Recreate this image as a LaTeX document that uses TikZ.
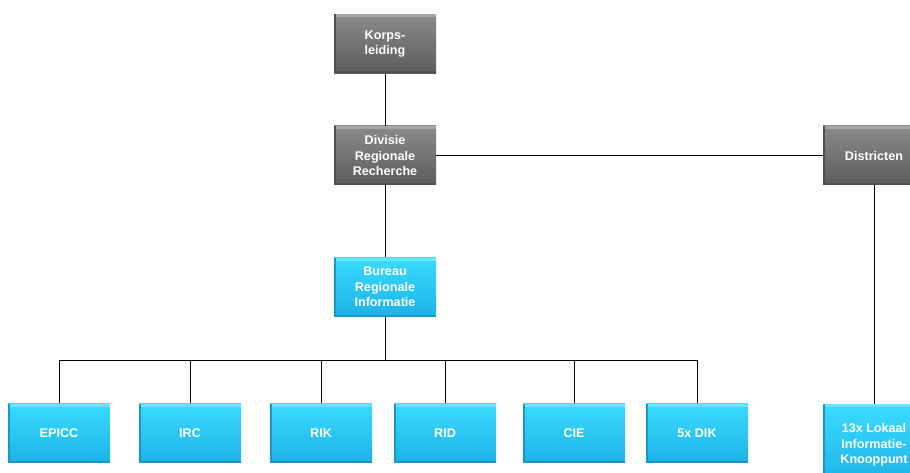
\documentclass[tikz,border=0pt]{standalone}
\usepackage{fontspec}
\setmainfont{Liberation Sans}
\definecolor{greytop}{HTML}{8A8A8C}
\definecolor{greybot}{HTML}{5C5C5E}
\definecolor{greyedge}{HTML}{4E4E50}
\definecolor{cyantop}{HTML}{3ADCFF}
\definecolor{cyanbot}{HTML}{1CB2E6}
\definecolor{cyanedge}{HTML}{1898C8}
\begin{document}
\begin{tikzpicture}[x=1pt,y=-1pt,
  unit/.style={rectangle, minimum width=102pt, minimum height=59pt, inner sep=0pt,
    text=white, align=center, font=\bfseries\fontsize{12.6}{15.5}\selectfont},
  bevel/.style={path picture={
    \fill[white, opacity=0.25] (path picture bounding box.north west) rectangle
      ([yshift=-3pt]path picture bounding box.north east);
    \fill[#1] (path picture bounding box.south west) rectangle
      ([xshift=2pt]path picture bounding box.north west);
    \fill[#1] (path picture bounding box.south west) rectangle
      ([yshift=2pt]path picture bounding box.south east);}},
  mgmt/.style={unit, top color=greytop, bottom color=greybot, bevel=greyedge},
  info/.style={unit, top color=cyantop, bottom color=cyanbot, bevel=cyanedge},
  link/.style={draw=black, line width=0.9pt}]
\useasboundingbox (0,0) rectangle (910,473);
\clip (0,0) rectangle (910,473);

% management chain
\node[mgmt] (korps) at (385,44) {Korps-\\leiding};
\node[mgmt] (div) at (385,155.5) {Divisie\\Regionale\\Recherche};
\node[mgmt] (dist) at (874,155.5) {Districten};
\node[info] (bri) at (385,287) {Bureau\\Regionale\\Informatie};

% regional information units
\node[info] (epicc) at (59,433) {EPICC};
\node[info] (irc) at (190,433) {IRC};
\node[info] (rik) at (321,433) {RIK};
\node[info] (rid) at (445,433) {RID};
\node[info] (cie) at (574,433) {CIE};
\node[info] (dik) at (697,433) {5x DIK};
\node[info, minimum height=82pt] (lik) at (874,445) {13x Lokaal\\Informatie-\\Knooppunt};

% connectors
\coordinate (bus) at (385,360);
\draw[link] (korps) -- (div);
\draw[link] (div) -- (bri);
\draw[link] (div) -- (dist);
\draw[link] (dist) -- (lik);
\draw[link] (bri) -- (bus);
\foreach \u in {epicc,irc,rik,rid,cie,dik}
  \draw[link] (\u.north) |- (bus);
\end{tikzpicture}
\end{document}
